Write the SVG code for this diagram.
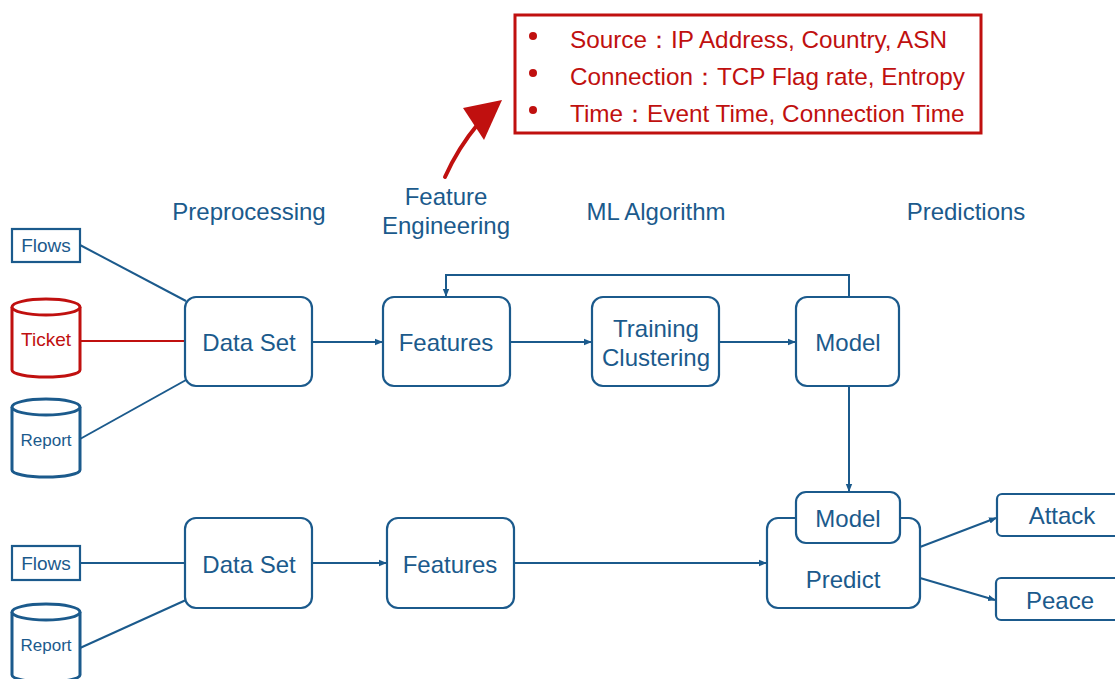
<svg xmlns="http://www.w3.org/2000/svg" width="1115" height="679" viewBox="0 0 1115 679">
<style>
.b{fill:#fff;stroke:#1b5a8c;stroke-width:2.2}
.cyl{fill:#fff;stroke:#1b5a8c;stroke-width:3}
.cylr{fill:#fff;stroke:#c0100f;stroke-width:3}
.t{font-family:"Liberation Sans",Arial,sans-serif;fill:#1b5a8c;text-anchor:middle}
.l{font-size:24px}
.s{font-size:19px}
.h{font-size:24px}
.r{font-family:"Liberation Sans",Arial,sans-serif;fill:#c0100f;font-size:24.3px}
.c{fill:none;stroke:#1b5a8c;stroke-width:2}
</style>
<defs>
<marker id="a" markerWidth="8" markerHeight="8" refX="7" refY="4" orient="auto" markerUnits="userSpaceOnUse">
<path d="M0,0.8 L8,4 L0,7.2 Z" fill="#1b5a8c"/>
</marker>
</defs>
<g id="callout">
<rect x="515" y="15" width="466" height="118" fill="#fff" stroke="#c0100f" stroke-width="3"/>
<circle cx="533" cy="36" r="4" fill="#c0100f"/>
<circle cx="533" cy="73" r="4" fill="#c0100f"/>
<circle cx="533" cy="110" r="4" fill="#c0100f"/>
<text class="r" x="570" y="48">Source：IP Address, Country, ASN</text>
<text class="r" x="570" y="85">Connection：TCP Flag rate, Entropy</text>
<text class="r" x="570" y="122">Time：Event Time, Connection Time</text>
</g>
<g id="red-arrow">
<path d="M445,177 Q458,148 478,124" fill="none" stroke="#c0100f" stroke-width="4" stroke-linecap="round"/>
<path d="M463,108 L502,100 L484,140 Z" fill="#c0100f"/>
</g>
<g id="headers">
<text class="t h" x="249" y="220">Preprocessing</text>
<text class="t h" x="446" y="205">Feature</text>
<text class="t h" x="446" y="234">Engineering</text>
<text class="t h" x="656" y="220">ML Algorithm</text>
<text class="t h" x="966" y="220">Predictions</text>
</g>
<g id="connectors">
<line class="c" x1="80" y1="245" x2="186" y2="301"/>
<line x1="80" y1="341" x2="186" y2="341" stroke="#c0100f" stroke-width="2"/>
<line class="c" x1="80" y1="439" x2="186" y2="380"/>
<line class="c" x1="312" y1="342" x2="382" y2="342" marker-end="url(#a)"/>
<line class="c" x1="510" y1="342" x2="591" y2="342" marker-end="url(#a)"/>
<line class="c" x1="719" y1="342" x2="795" y2="342" marker-end="url(#a)"/>
<polyline class="c" points="849,297 849,275 446,275 446,296" marker-end="url(#a)"/>
<line class="c" x1="849" y1="386" x2="849" y2="491" marker-end="url(#a)"/>
<line class="c" x1="80" y1="563" x2="186" y2="563"/>
<line class="c" x1="80" y1="648" x2="186" y2="600"/>
<line class="c" x1="312" y1="563" x2="386" y2="563" marker-end="url(#a)"/>
<line class="c" x1="514" y1="563" x2="766" y2="563" marker-end="url(#a)"/>
<line class="c" x1="920" y1="547" x2="996" y2="518" marker-end="url(#a)"/>
<line class="c" x1="920" y1="578" x2="995" y2="600" marker-end="url(#a)"/>
</g>
<g id="flows1"><rect class="b" x="12" y="229" width="68" height="33"/><text class="t s" x="46" y="252">Flows</text></g>
<g id="ticket">
<path class="cylr" d="M12,307 L12,370 A34,7 0 0 0 80,370 L80,307"/>
<ellipse class="cylr" cx="46" cy="307" rx="34" ry="8"/>
<text x="46" y="346" font-family="Liberation Sans,Arial,sans-serif" font-size="19" fill="#c0100f" text-anchor="middle">Ticket</text>
</g>
<g id="report1">
<path class="cyl" d="M12,407 L12,470 A34,7 0 0 0 80,470 L80,407"/>
<ellipse class="cyl" cx="46" cy="407" rx="34" ry="8"/>
<text class="t" x="46" y="446" font-size="17">Report</text>
</g>
<g id="dataset1"><rect class="b" x="185" y="297" width="127" height="89" rx="11"/><text class="t l" x="249" y="351">Data Set</text></g>
<g id="features1"><rect class="b" x="383" y="297" width="127" height="89" rx="11"/><text class="t l" x="446" y="351">Features</text></g>
<g id="training"><rect class="b" x="592" y="297" width="127" height="89" rx="11"/><text class="t l" x="656" y="337">Training</text><text class="t l" x="656" y="366">Clustering</text></g>
<g id="model1"><rect class="b" x="796" y="297" width="103" height="89" rx="11"/><text class="t l" x="848" y="351">Model</text></g>
<g id="flows2"><rect class="b" x="12" y="546" width="68" height="34"/><text class="t s" x="46" y="570">Flows</text></g>
<g id="report2">
<path class="cyl" d="M12,612 L12,675 A34,7 0 0 0 80,675 L80,612"/>
<ellipse class="cyl" cx="46" cy="612" rx="34" ry="8"/>
<text class="t" x="46" y="651" font-size="17">Report</text>
</g>
<g id="dataset2"><rect class="b" x="185" y="518" width="127" height="90" rx="11"/><text class="t l" x="249" y="573">Data Set</text></g>
<g id="features2"><rect class="b" x="387" y="518" width="127" height="90" rx="11"/><text class="t l" x="450" y="573">Features</text></g>
<g id="predict"><rect class="b" x="767" y="518" width="153" height="90" rx="11"/><text class="t l" x="843" y="588">Predict</text></g>
<g id="model2"><rect class="b" x="796" y="492" width="104" height="51" rx="10"/><text class="t l" x="848" y="527">Model</text></g>
<g id="attack"><rect class="b" x="997" y="494" width="125" height="42" rx="5"/><text class="t l" x="1062" y="524">Attack</text></g>
<g id="peace"><rect class="b" x="996" y="578" width="126" height="42" rx="5"/><text class="t l" x="1060" y="609">Peace</text></g>
</svg>
